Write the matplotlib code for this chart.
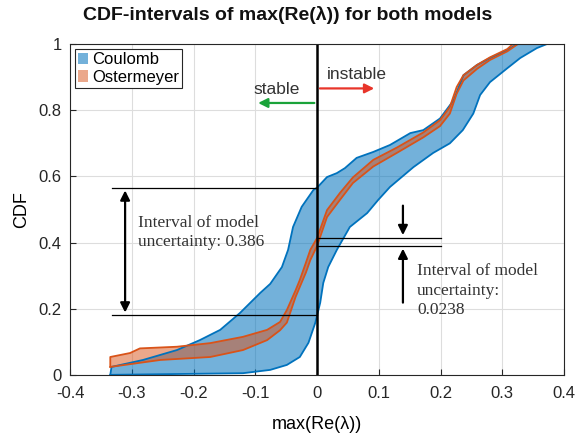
import numpy as np
import matplotlib.pyplot as plt
from matplotlib.patches import Patch

plt.rcParams['font.family'] = ['Liberation Sans', 'DejaVu Sans']

# Coulomb p-box (upper/left CDF bound and lower/right CDF bound)
coul_up_x = [-0.335, -0.333, -0.282, -0.227, -0.19, -0.157, -0.125, -0.092, -0.076,
             -0.057, -0.047, -0.039, -0.025, -0.006, 0.0, 0.016, 0.032, 0.045, 0.064, 0.091,
             0.118, 0.151, 0.172, 0.199, 0.221, 0.237, 0.259, 0.28, 0.308, 0.324, 0.4]
coul_up_y = [0.0, 0.024, 0.045, 0.075, 0.105, 0.136, 0.187, 0.248, 0.275,
             0.326, 0.378, 0.447, 0.508, 0.559, 0.566, 0.598, 0.61, 0.625, 0.656, 0.674,
             0.695, 0.731, 0.74, 0.775, 0.83, 0.906, 0.937, 0.958, 0.982, 1.0, 1.0]
coul_lo_x = [-0.335, -0.12, -0.076, -0.049, -0.028, -0.014, -0.003, 0.005, 0.01, 0.018,
             0.032, 0.053, 0.081, 0.099, 0.118, 0.156, 0.188, 0.215, 0.236, 0.253, 0.264,
             0.28, 0.308, 0.329, 0.356, 0.372, 0.4]
coul_lo_y = [0.0, 0.005, 0.015, 0.03, 0.054, 0.097, 0.157, 0.218, 0.278, 0.326,
             0.378, 0.447, 0.489, 0.529, 0.568, 0.628, 0.671, 0.70, 0.74, 0.79, 0.846,
             0.885, 0.927, 0.958, 0.988, 1.0, 1.0]

# Ostermeyer p-box
oste_up_x = [-0.335, -0.335, -0.303, -0.287, -0.227, -0.173, -0.12, -0.081, -0.06, -0.049,
             -0.035, -0.028, -0.018, -0.011, 0.0, 0.016, 0.037, 0.058, 0.091, 0.13, 0.172,
             0.199, 0.215, 0.226, 0.237, 0.259, 0.28, 0.308, 0.317, 0.4]
oste_up_y = [0.024, 0.054, 0.066, 0.08, 0.085, 0.096, 0.115, 0.136, 0.16, 0.196,
             0.255, 0.287, 0.34, 0.378, 0.414, 0.498, 0.55, 0.597, 0.65, 0.688, 0.733,
             0.77, 0.81, 0.87, 0.906, 0.937, 0.96, 0.985, 1.0, 1.0]
oste_lo_x = [-0.335, -0.254, -0.173, -0.12, -0.081, -0.06, -0.049, -0.035, -0.028, -0.018,
             -0.011, 0.0, 0.016, 0.037, 0.058, 0.091, 0.13, 0.172, 0.199, 0.215, 0.226,
             0.237, 0.259, 0.28, 0.308, 0.325, 0.4]
oste_lo_y = [0.024, 0.045, 0.054, 0.075, 0.105, 0.135, 0.158, 0.235, 0.266, 0.31,
             0.347, 0.39, 0.477, 0.529, 0.58, 0.63, 0.672, 0.718, 0.752, 0.79, 0.85,
             0.89, 0.925, 0.952, 0.978, 1.0, 1.0]

# annotation values
coul_at0 = [0.566, 0.18]
oste_at0 = [0.414, 0.39]

blue = '#0072BD'
orange = '#D95319'

fig = plt.figure(figsize=(5.75, 4.41), dpi=100)
ax = fig.add_axes([0.122, 0.150, 0.859, 0.750])

def pbox(xu, yu, xl, yl, col, a):
    px = np.concatenate([xu, xl[::-1]])
    py = np.concatenate([yu, yl[::-1]])
    ax.fill(px, py, facecolor=col, alpha=a, edgecolor='none')
    ax.plot(xu, yu, color=col, lw=1.3)
    ax.plot(xl, yl, color=col, lw=1.3)

pbox(np.array(coul_up_x), np.array(coul_up_y), np.array(coul_lo_x), np.array(coul_lo_y), blue, 0.55)
pbox(np.array(oste_up_x), np.array(oste_up_y), np.array(oste_lo_x), np.array(oste_lo_y), orange, 0.5)

# zero line
ax.plot([0, 0], [0, 1], color='black', lw=1.8)

# left annotation (Coulomb)
for v in coul_at0:
    ax.plot([-0.332, 0], [v, v], color='black', lw=0.9)
ax.annotate('', xy=(-0.311, coul_at0[1]), xytext=(-0.311, coul_at0[0]),
            arrowprops=dict(arrowstyle='<|-|>', color='black', lw=1.6, mutation_scale=14))
ax.text(-0.29, 0.43, 'Interval of model\nuncertainty: 0.386', family='Liberation Serif',
        fontsize=12.5, va='center', ha='left', color='#333333', linespacing=1.3)

# right annotation (Ostermeyer)
for v in oste_at0:
    ax.plot([0, 0.2], [v, v], color='black', lw=0.9)
ax.annotate('', xy=(0.139, oste_at0[0]), xytext=(0.139, 0.52),
            arrowprops=dict(arrowstyle='-|>', color='black', lw=1.6, mutation_scale=14))
ax.annotate('', xy=(0.139, oste_at0[1]), xytext=(0.139, 0.21),
            arrowprops=dict(arrowstyle='-|>', color='black', lw=1.6, mutation_scale=14))
ax.text(0.162, 0.255, 'Interval of model\nuncertainty:\n0.0238', family='Liberation Serif',
        fontsize=12.5, va='center', ha='left', color='#333333', linespacing=1.3)

# stable / instable arrows
ax.annotate('', xy=(-0.1, 0.822), xytext=(0, 0.822),
            arrowprops=dict(arrowstyle='-|>', color='#1aa33a', lw=1.6, mutation_scale=14))
ax.text(-0.065, 0.862, 'stable', ha='center', va='center', fontsize=12.5, color='#333333')
ax.annotate('', xy=(0.097, 0.866), xytext=(0, 0.866),
            arrowprops=dict(arrowstyle='-|>', color='#e8352a', lw=1.6, mutation_scale=14))
ax.text(0.065, 0.908, 'instable', ha='center', va='center', fontsize=12.5, color='#333333')

ax.set_xlim(-0.4, 0.4)
ax.set_ylim(0, 1)
ax.set_xticks(np.arange(-0.4, 0.41, 0.1))
ax.set_xticklabels(['-0.4', '-0.3', '-0.2', '-0.1', '0', '0.1', '0.2', '0.3', '0.4'])
ax.set_yticks(np.arange(0, 1.01, 0.2))
ax.set_yticklabels(['0', '0.2', '0.4', '0.6', '0.8', '1'])
ax.tick_params(direction='in', labelsize=12, colors='#262626', length=4)
ax.tick_params(axis='x', pad=8)
ax.tick_params(axis='y', pad=6)
ax.grid(True, color='#dddddd', lw=0.8)
ax.set_axisbelow(True)
for s in ax.spines.values():
    s.set_color('#262626')

fig.text(0.5, 0.965, 'CDF-intervals of max(Re(\u03bb)) for both models', fontsize=14,
         fontweight='bold', ha='center', va='center', color='#111111')
ax.set_xlabel('max(Re(\u03bb))', fontsize=13, labelpad=11)
ax.set_ylabel('CDF', fontsize=13, labelpad=6)

handles = [Patch(facecolor=blue, alpha=0.55, edgecolor='none'),
           Patch(facecolor=orange, alpha=0.5, edgecolor='none')]
leg = ax.legend(handles, ['Coulomb', 'Ostermeyer'], loc='upper left', fontsize=12,
                fancybox=False, framealpha=1, edgecolor='#262626', handlelength=0.6,
                handleheight=0.7, handletextpad=0.2, borderaxespad=0.3, borderpad=0.2,
                labelspacing=0.15)
leg.get_frame().set_linewidth(0.8)

fig.savefig('out.png', dpi=100)
